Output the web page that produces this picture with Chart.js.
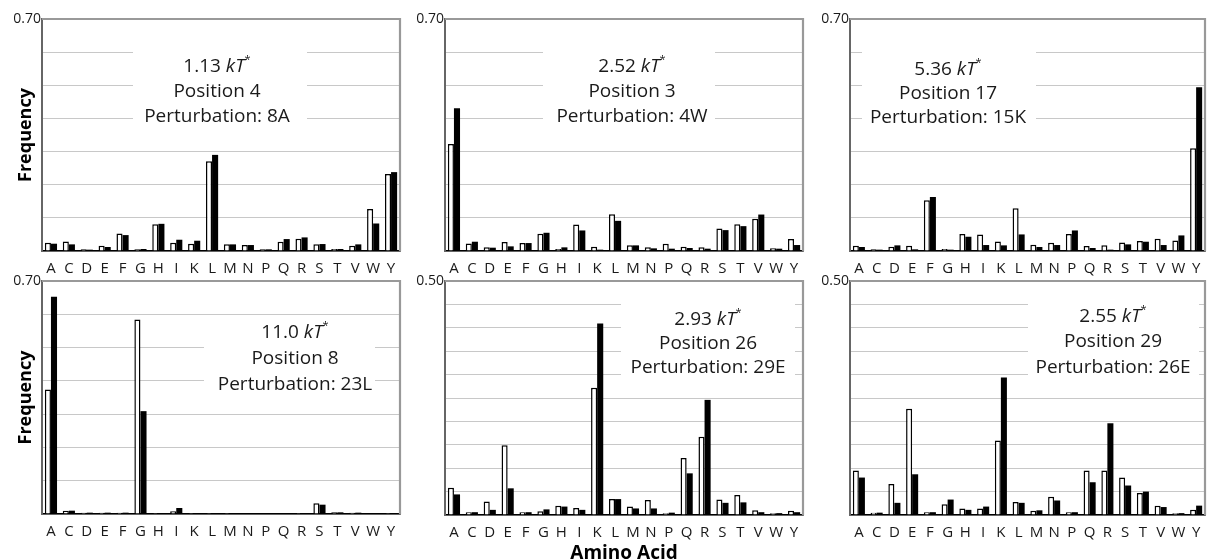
<!DOCTYPE html>
<html>
<head>
<meta charset="utf-8">
<script src="https://cdn.jsdelivr.net/npm/chart.js@4.4.1/dist/chart.umd.min.js"></script>
<style>
  html, body { margin: 0; padding: 0; background: #fff; width: 1208px; height: 560px; overflow: hidden; }
  #fig { position: relative; width: 1208px; height: 560px; }
  #fig canvas { position: absolute; }
</style>
</head>
<body>
<div id="fig"></div>
<script>
// Amino-acid frequency at a residue position, without (open) and with (filled) a perturbation
const aminoAcids = ['A','C','D','E','F','G','H','I','K','L','M','N','P','Q','R','S','T','V','W','Y'];

const pos4Open     = [0.025,0.029,0.005,0.016,0.053,0.005,0.081,0.025,0.022,0.271,0.020,0.018,0.005,0.028,0.037,0.020,0.006,0.016,0.127,0.232];
const pos4Filled   = [0.022,0.020,0.004,0.012,0.048,0.006,0.082,0.034,0.031,0.290,0.020,0.018,0.005,0.036,0.041,0.021,0.006,0.020,0.083,0.238];

const pos3Open     = [0.323,0.023,0.011,0.027,0.024,0.052,0.006,0.080,0.013,0.111,0.017,0.011,0.022,0.013,0.011,0.068,0.081,0.097,0.008,0.036];
const pos3Filled   = [0.431,0.028,0.010,0.014,0.024,0.055,0.011,0.062,0.004,0.091,0.017,0.008,0.007,0.009,0.007,0.063,0.075,0.110,0.007,0.018];

const pos17Open    = [0.016,0.005,0.013,0.016,0.153,0.006,0.051,0.050,0.029,0.129,0.019,0.025,0.051,0.015,0.017,0.026,0.030,0.037,0.032,0.310];
const pos17Filled  = [0.012,0.004,0.017,0.005,0.163,0.004,0.043,0.018,0.017,0.050,0.012,0.018,0.062,0.009,0.004,0.020,0.028,0.018,0.047,0.494];

const pos8Open     = [0.374,0.010,0.004,0.004,0.004,0.584,0.003,0.008,0.003,0.003,0.003,0,0,0,0.003,0.032,0.005,0.004,0,0.003];
const pos8Filled   = [0.653,0.010,0.004,0.004,0.004,0.309,0.003,0.018,0.003,0.003,0.003,0,0,0,0.003,0.028,0.005,0.004,0,0.003];

const pos26Open    = [0.058,0.006,0.029,0.149,0.006,0.008,0.020,0.015,0.272,0.034,0.018,0.032,0.004,0.122,0.167,0.033,0.043,0.010,0.004,0.009];
const pos26Filled  = [0.044,0.006,0.011,0.057,0.006,0.012,0.018,0.011,0.409,0.034,0.014,0.014,0.005,0.089,0.246,0.026,0.027,0.006,0.004,0.006];

const pos29Open    = [0.095,0.005,0.066,0.227,0.006,0.023,0.014,0.014,0.159,0.028,0.009,0.039,0.006,0.095,0.095,0.080,0.047,0.020,0.004,0.011];
const pos29Filled  = [0.080,0.005,0.026,0.087,0.006,0.033,0.011,0.018,0.294,0.026,0.010,0.031,0.006,0.070,0.196,0.063,0.050,0.017,0.004,0.020];

const couplingEnergies = ['1.13','2.52','5.36','11.0','2.93','2.55'];
const positions        = [4, 3, 17, 8, 26, 29];
const perturbations    = ['8A','4W','15K','23L','29E','26E'];
const yMaxima          = [0.70, 0.70, 0.70, 0.70, 0.50, 0.50];
const yStepSizes       = [0.10, 0.10, 0.10, 0.10, 0.05, 0.05];

const openSeries   = [pos4Open, pos3Open, pos17Open, pos8Open, pos26Open, pos29Open];
const filledSeries = [pos4Filled, pos3Filled, pos17Filled, pos8Filled, pos26Filled, pos29Filled];

const FONT = "'Open Sans', 'Noto Sans', sans-serif";

// Plot rectangles (page pixels), axis box sizes and the label box inside each plot
const panels = [
  { x: 42,  y: 19,  w: 358, h: 232, yw: 42, xh: 28, yTitle: true,  xTitle: false,
    note: { cx: 175, rows: [48, 73, 98],  box: [91, 26, 265, 112] } },
  { x: 445, y: 19,  w: 358, h: 232, yw: 40, xh: 28, yTitle: false, xTitle: false,
    note: { cx: 187, rows: [48, 73, 98],  box: [98, 26, 270, 112] } },
  { x: 850, y: 19,  w: 355, h: 232, yw: 40, xh: 28, yTitle: false, xTitle: false,
    note: { cx: 98,  rows: [51, 75, 99],  box: [12, 26, 186, 112] } },
  { x: 42,  y: 281, w: 358, h: 233, yw: 42, xh: 30, yTitle: true,  xTitle: false,
    note: { cx: 253, rows: [52, 78, 104], box: [162, 38, 333, 118] } },
  { x: 445, y: 281, w: 358, h: 234, yw: 40, xh: 50, yTitle: false, xTitle: true,
    note: { cx: 263, rows: [39, 63, 87],  box: [176, 12, 350, 105] } },
  { x: 850, y: 281, w: 355, h: 234, yw: 40, xh: 30, yTitle: false, xTitle: false,
    note: { cx: 263, rows: [36, 61, 87],  box: [178, 12, 349, 105] } }
];

const PAD_TOP = 12, PAD_RIGHT = 3;

// White label box with the three caption lines, plus the grey top/right frame
const panelDecor = {
  id: 'panelDecor',
  beforeDatasetsDraw(chart, args, opts) {
    const a = chart.chartArea, ctx = chart.ctx, b = opts.box;
    ctx.save();
    ctx.fillStyle = '#fff';
    ctx.fillRect(a.left + b[0], a.top + b[1], b[2] - b[0], b[3] - b[1]);
    ctx.restore();
  },
  afterDatasetsDraw(chart, args, opts) {
    const a = chart.chartArea, ctx = chart.ctx;
    ctx.save();
    // frame
    ctx.strokeStyle = '#999';
    ctx.lineWidth = 2.2;
    ctx.beginPath();
    ctx.moveTo(a.left, a.top);
    ctx.lineTo(a.right, a.top);
    ctx.lineTo(a.right, a.bottom);
    ctx.stroke();

    ctx.fillStyle = '#1a1a1a';
    ctx.textBaseline = 'middle';
    const cx = a.left + opts.cx;
    // first line: energy, italic kT, superscript star
    const parts = [
      { t: opts.energy + ' ', f: `19px ${FONT}`, dy: 0 },
      { t: 'kT', f: `italic 19px ${FONT}`, dy: 0 },
      { t: '*', f: `11px ${FONT}`, dy: -7 }
    ];
    let total = 0;
    parts.forEach(p => { ctx.font = p.f; p.w = ctx.measureText(p.t).width; total += p.w; });
    let x = cx - total / 2;
    ctx.textAlign = 'left';
    parts.forEach(p => { ctx.font = p.f; ctx.fillText(p.t, x, a.top + opts.rows[0] + p.dy); x += p.w; });

    ctx.textAlign = 'center';
    ctx.font = `19px ${FONT}`;
    ctx.fillText('Position ' + opts.position, cx, a.top + opts.rows[1]);
    ctx.fillText('Perturbation: ' + opts.perturbation, cx, a.top + opts.rows[2]);
    ctx.restore();
  }
};

const fig = document.getElementById('fig');

panels.forEach((p, i) => {
  const canvas = document.createElement('canvas');
  const cw = p.yw + p.w + PAD_RIGHT;
  const ch = PAD_TOP + p.h + p.xh;
  canvas.width = cw; canvas.height = ch;
  canvas.style.left = (p.x - p.yw) + 'px';
  canvas.style.top = (p.y - PAD_TOP) + 'px';
  canvas.style.width = cw + 'px';
  canvas.style.height = ch + 'px';
  fig.appendChild(canvas);

  const yMax = yMaxima[i];

  new Chart(canvas, {
    type: 'bar',
    data: {
      labels: aminoAcids,
      datasets: [
        { label: 'Unperturbed', data: openSeries[i], backgroundColor: '#fff',
          borderColor: '#000', borderWidth: 1.5 },
        { label: 'Perturbed', data: filledSeries[i], backgroundColor: '#000',
          borderWidth: 0 }
      ]
    },
    options: {
      responsive: false,
      animation: false,
      devicePixelRatio: 1,
      layout: { padding: { top: PAD_TOP, right: PAD_RIGHT, left: 0, bottom: 0 } },
      datasets: { bar: { barPercentage: 1.0, categoryPercentage: 0.68 } },
      plugins: {
        legend: { display: false },
        tooltip: { enabled: false },
        panelDecor: {
          cx: p.note.cx, rows: p.note.rows, box: p.note.box,
          energy: couplingEnergies[i], position: positions[i], perturbation: perturbations[i]
        }
      },
      scales: {
        x: {
          grid: { display: false },
          border: { display: true, color: '#000', width: 1.5 },
          ticks: { color: '#1a1a1a', font: { family: FONT, size: 15 }, padding: 1,
                   maxRotation: 0, autoSkip: false },
          title: { display: p.xTitle, text: 'Amino Acid', color: '#000',
                   font: { family: FONT, size: 19, weight: 'bold' },
                   padding: { top: 0, bottom: 0 } },
          afterFit(scale) { scale.height = p.xh; }
        },
        y: {
          min: 0, max: yMax,
          grid: { color: '#c8c8c8', lineWidth: 1, drawTicks: false },
          border: { display: true, color: '#666', width: 2 },
          ticks: {
            stepSize: yStepSizes[i],
            color: '#1a1a1a',
            font: { family: FONT, size: 14 },
            padding: 1,
            callback: (v) => Math.abs(v - yMax) < 1e-9 ? v.toFixed(2) : ''
          },
          title: { display: p.yTitle, text: 'Frequency', color: '#000',
                   font: { family: FONT, size: 18, weight: 'bold' },
                   padding: { top: 15, bottom: 0 } },
          afterFit(scale) { scale.width = p.yw; }
        }
      }
    },
    plugins: [panelDecor]
  });
});
</script>
</body>
</html>
